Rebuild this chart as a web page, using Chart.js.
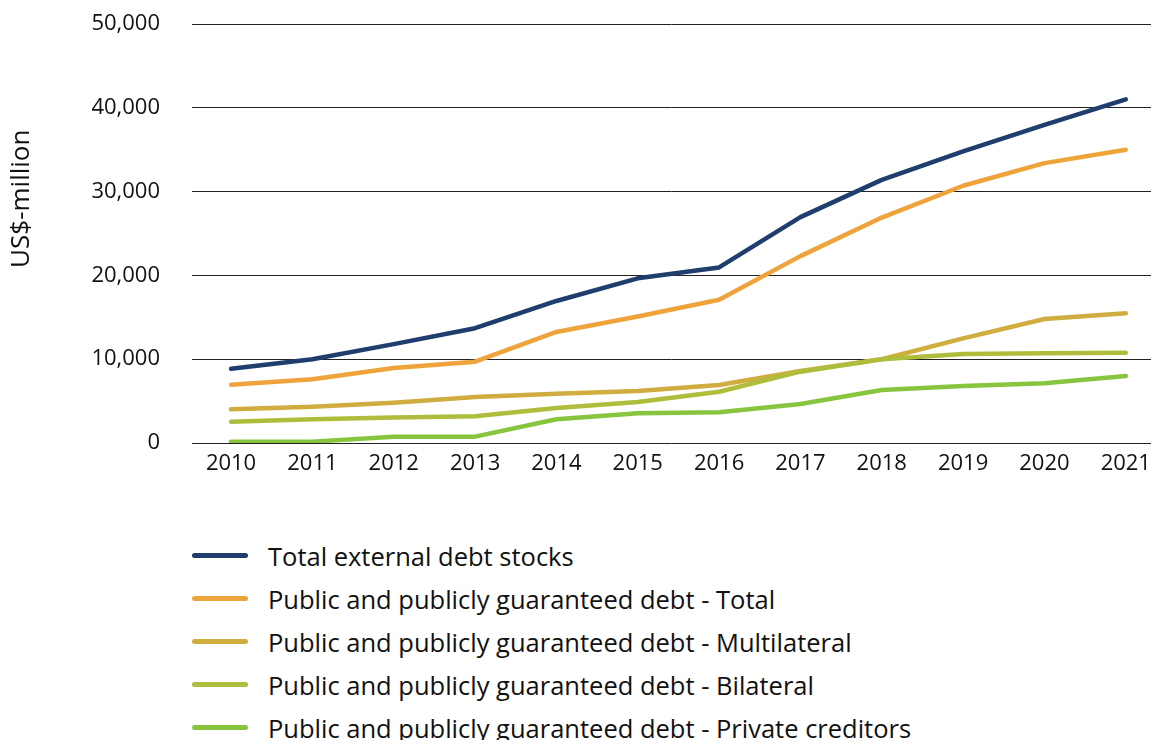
<!DOCTYPE html>
<html>
<head>
<meta charset="utf-8">
<script src="https://cdn.jsdelivr.net/npm/chart.js@4.4.1/dist/chart.umd.min.js"></script>
<style>
  html, body { margin: 0; padding: 0; background: #fff; }
  #wrap { position: relative; width: 1151px; height: 740px; overflow: hidden; }
  #cv { position: absolute; left: 0; top: 0; }
  #legend { position: absolute; left: 192px; top: 534px; font-family: "Open Sans", sans-serif; font-size: 25.5px; color: #111; }
  .item { display: flex; align-items: center; height: 43px; white-space: nowrap; }
  .swatch { width: 56px; height: 5px; border-radius: 3px; margin-right: 20px; flex: none; }
</style>
</head>
<body>
<div id="wrap">
  <canvas id="cv" width="1151" height="490"></canvas>
  <div id="legend"></div>
</div>
<script>
const years = [2010, 2011, 2012, 2013, 2014, 2015, 2016, 2017, 2018, 2019, 2020, 2021];
const yTicks = [0, 10000, 20000, 30000, 40000, 50000];
const seriesNames = [
  "Total external debt stocks",
  "Public and publicly guaranteed debt - Total",
  "Public and publicly guaranteed debt - Multilateral",
  "Public and publicly guaranteed debt - Bilateral",
  "Public and publicly guaranteed debt - Private creditors"
];
const totalExternal = [8850, 10000, 11800, 13700, 16950, 19650, 20950, 26950, 31400, 34800, 37950, 41000];
const ppgTotal      = [6950, 7600, 8950, 9700, 13250, 15100, 17100, 22300, 26900, 30700, 33400, 35000];
const ppgMulti      = [4020, 4330, 4810, 5490, 5880, 6200, 6920, 8590, 9990, 12490, 14800, 15470];
const ppgBilateral  = [2550, 2830, 3030, 3190, 4180, 4890, 6120, 8510, 9990, 10620, 10700, 10780];
const ppgPrivate    = [160, 160, 760, 760, 2830, 3540, 3660, 4650, 6320, 6800, 7120, 7990];
const colors = ["#1f3e6e", "#efa43b", "#cfad3f", "#afbd3d", "#88c53f"];

const seriesValues = [totalExternal, ppgTotal, ppgMulti, ppgBilateral, ppgPrivate];
const FONT = "'Open Sans', sans-serif";

const yTitlePlugin = {
  id: 'yTitle',
  afterDraw(chart) {
    const {ctx, chartArea} = chart;
    ctx.save();
    ctx.translate(22, chartArea.top + (chartArea.bottom - chartArea.top) * 0.417);
    ctx.rotate(-Math.PI / 2);
    ctx.font = "26px " + FONT;
    ctx.fillStyle = "#111";
    ctx.textAlign = "center";
    ctx.textBaseline = "middle";
    ctx.fillText("US$-million", 0, 0);
    ctx.restore();
  }
};

const chart = new Chart(document.getElementById('cv'), {
  type: 'line',
  data: {
    datasets: seriesNames.map((name, i) => ({
      label: name,
      data: years.map((yr, j) => ({x: yr, y: seriesValues[i][j]})),
      borderColor: colors[i],
      backgroundColor: colors[i],
      borderWidth: 4.5,
      pointRadius: 0,
      tension: 0,
      borderCapStyle: 'round',
      borderJoinStyle: 'round',
      fill: false
    })).reverse()
  },
  options: {
    responsive: false,
    animation: false,
    devicePixelRatio: 1,
    layout: { padding: { top: 24, right: 0, left: 0, bottom: 0 } },
    plugins: {
      legend: { display: false },
      tooltip: { enabled: false }
    },
    scales: {
      x: {
        type: 'linear',
        min: 2009.52,
        max: 2021.31,
        afterBuildTicks(scale) { scale.ticks = years.map(v => ({value: v})); },
        grid: { display: false },
        border: { display: false },
        ticks: {
          font: { family: FONT, size: 22 },
          color: '#111',
          padding: 0,
          maxRotation: 0,
          autoSkip: false,
          callback: v => String(v)
        },
        afterFit(scale) { scale.height = 490 - 443; scale.paddingLeft = 0; scale.paddingRight = 0; }
      },
      y: {
        min: 0,
        max: 50000,
        afterBuildTicks(scale) { scale.ticks = yTicks.map(v => ({value: v})); },
        grid: { color: '#222', lineWidth: 1, drawTicks: false },
        border: { display: false },
        ticks: {
          font: { family: FONT, size: 22 },
          color: '#111',
          padding: 32,
          callback: v => v.toLocaleString('en-US')
        },
        afterFit(scale) { scale.width = 192; scale.paddingTop = 0; scale.paddingBottom = 0; }
      }
    }
  },
  plugins: [yTitlePlugin]
});

const legend = document.getElementById('legend');
seriesNames.forEach((name, i) => {
  const row = document.createElement('div');
  row.className = 'item';
  const sw = document.createElement('span');
  sw.className = 'swatch';
  sw.style.background = colors[i];
  const tx = document.createElement('span');
  tx.textContent = name;
  row.appendChild(sw);
  row.appendChild(tx);
  legend.appendChild(row);
});
</script>
</body>
</html>
